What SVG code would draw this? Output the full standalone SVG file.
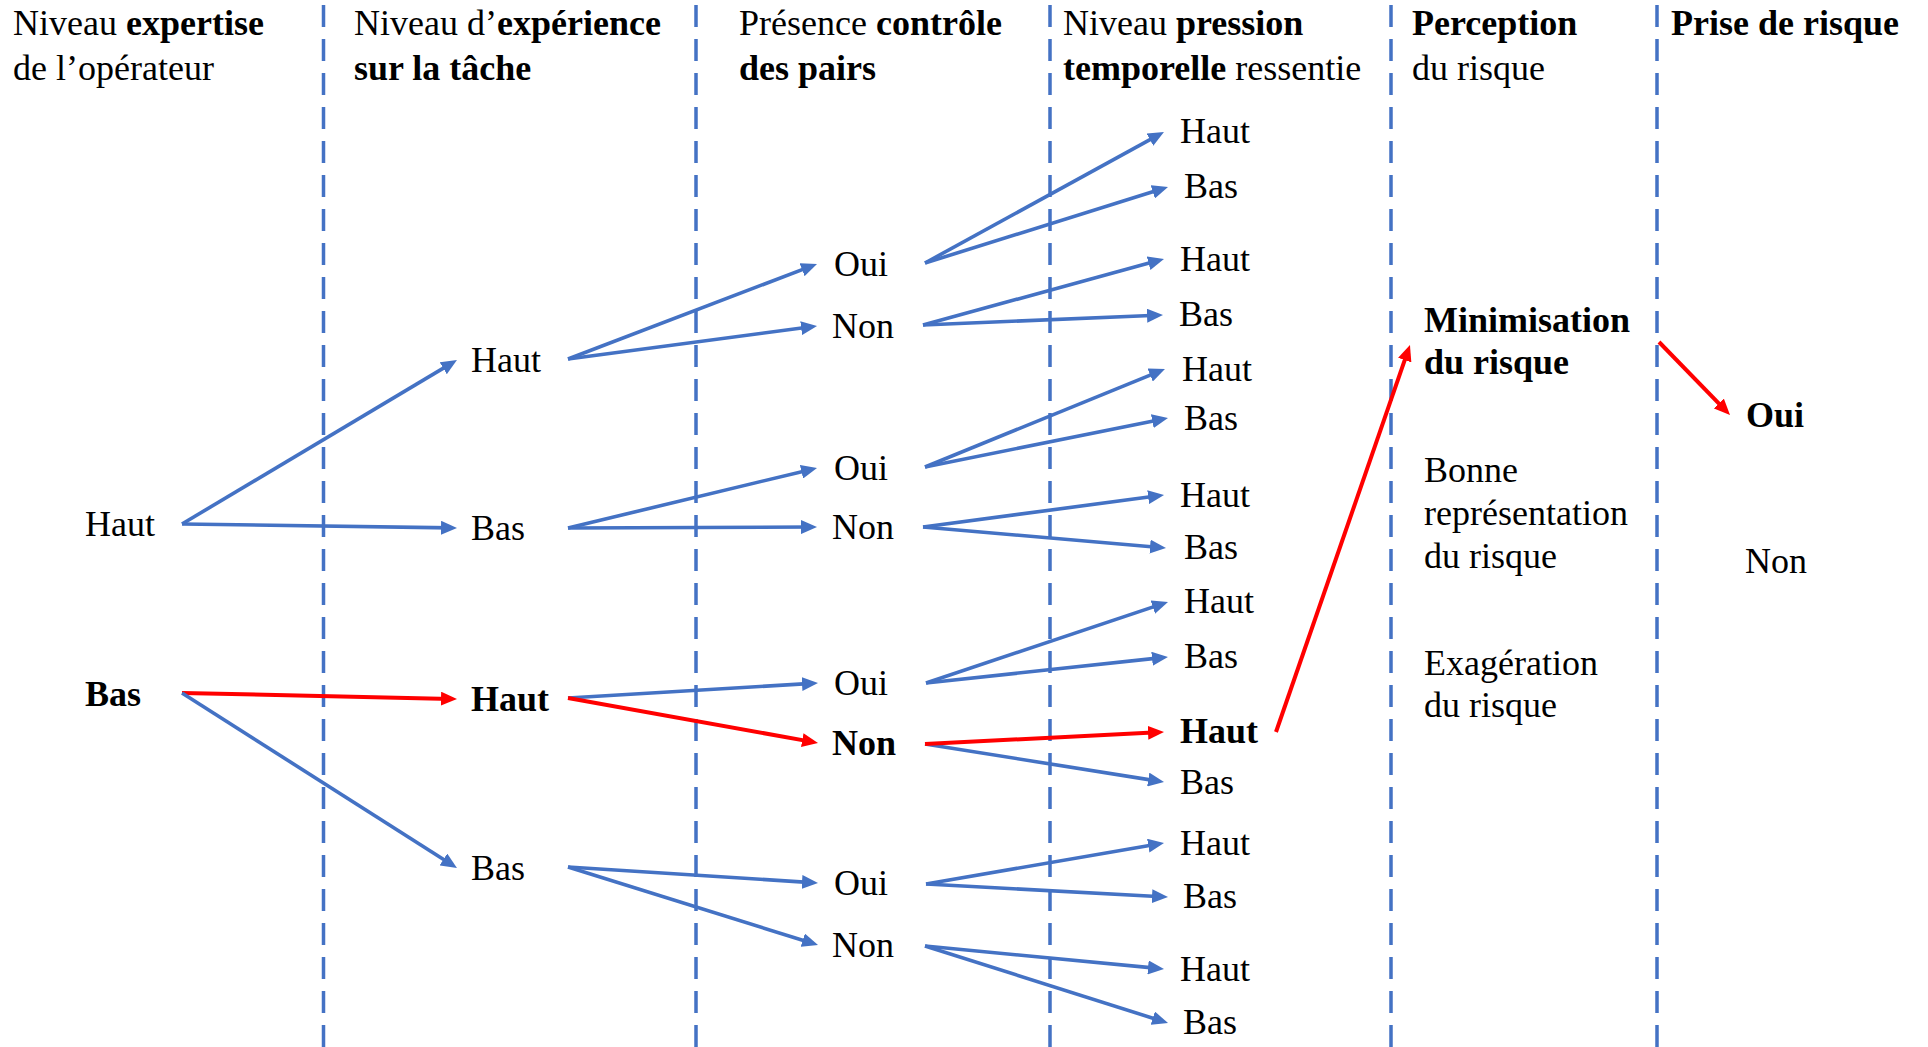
<svg xmlns="http://www.w3.org/2000/svg" width="1928" height="1047" viewBox="0 0 1928 1047">
<style>
text{font-family:"Liberation Serif","Times New Roman",serif;font-size:36px;fill:#000}
.b{font-weight:bold}
.dash{stroke:#4472C4;stroke-width:3.5;stroke-dasharray:22 12;fill:none}
.ab{stroke:#4472C4;stroke-width:3.6;fill:none;marker-end:url(#mb)}
.ar{stroke:#FF0000;stroke-width:4;fill:none;marker-end:url(#mr)}
</style>
<defs>
<marker id="mb" markerUnits="userSpaceOnUse" viewBox="0 0 16 14" markerWidth="16" markerHeight="14" refX="10" refY="7" orient="auto"><path d="M0,0 L16,7 L0,14 z" fill="#4472C4"/></marker>
<marker id="mr" markerUnits="userSpaceOnUse" viewBox="0 0 16 14" markerWidth="16" markerHeight="14" refX="10" refY="7" orient="auto"><path d="M0,0 L16,7 L0,14 z" fill="#FF0000"/></marker>
</defs>
<rect width="1928" height="1047" fill="#fff"/>
<g id="separators">
<line class="dash" x1="323.5" y1="5" x2="323.5" y2="1047"/>
<line class="dash" x1="696" y1="5" x2="696" y2="1047"/>
<line class="dash" x1="1050" y1="5" x2="1050" y2="1047"/>
<line class="dash" x1="1391" y1="5" x2="1391" y2="1047"/>
<line class="dash" x1="1657" y1="5" x2="1657" y2="1047"/>
</g>
<g id="headers">
<text x="13" y="35">Niveau <tspan class="b">expertise</tspan></text>
<text x="13" y="80">de l’opérateur</text>
<text x="354" y="35">Niveau d’<tspan class="b">expérience</tspan></text>
<text x="354" y="80" class="b">sur la tâche</text>
<text x="739" y="35">Présence <tspan class="b">contrôle</tspan></text>
<text x="739" y="80" class="b">des pairs</text>
<text x="1063" y="35">Niveau <tspan class="b">pression</tspan></text>
<text x="1063" y="80"><tspan class="b">temporelle</tspan> ressentie</text>
<text x="1412" y="35" class="b">Perception</text>
<text x="1412" y="80">du risque</text>
<text x="1671" y="35" class="b">Prise de risque</text>
</g>
<g id="connectors">
<line class="ab" x1="182" y1="524" x2="451.8" y2="363.1"/>
<line class="ab" x1="182" y1="524" x2="451" y2="527.9"/>
<line class="ar" x1="182" y1="693" x2="451" y2="698.9"/>
<line class="ab" x1="182" y1="693" x2="451.9" y2="864.8"/>
<line class="ab" x1="568" y1="359" x2="811.4" y2="266.1"/>
<line class="ab" x1="568" y1="359" x2="811.1" y2="326.8"/>
<line class="ab" x1="568" y1="528" x2="811.2" y2="469.4"/>
<line class="ab" x1="568" y1="528" x2="811" y2="527"/>
<line class="ab" x1="568" y1="698" x2="812" y2="683.4"/>
<line class="ar" x1="568" y1="698" x2="812.1" y2="741.9"/>
<line class="ab" x1="568" y1="867" x2="812" y2="882.6"/>
<line class="ab" x1="568" y1="867" x2="812.3" y2="943.2"/>
<line class="ab" x1="925" y1="263" x2="1158.7" y2="134.9"/>
<line class="ab" x1="925" y1="263" x2="1162.3" y2="188.8"/>
<line class="ab" x1="923" y1="325" x2="1158.2" y2="260.6"/>
<line class="ab" x1="923" y1="325" x2="1157" y2="315.25"/>
<line class="ab" x1="925" y1="467" x2="1159.4" y2="371.3"/>
<line class="ab" x1="925" y1="467" x2="1162.1" y2="419.2"/>
<line class="ab" x1="923" y1="527" x2="1158.1" y2="495.8"/>
<line class="ab" x1="923" y1="527" x2="1160" y2="547.5"/>
<line class="ab" x1="926" y1="683" x2="1162.3" y2="603.9"/>
<line class="ab" x1="926" y1="683" x2="1162" y2="657.6"/>
<line class="ab" x1="925" y1="744" x2="1158.1" y2="781.1"/>
<line class="ar" x1="925" y1="744" x2="1158" y2="732.3"/>
<line class="ab" x1="926" y1="884" x2="1158.1" y2="844"/>
<line class="ab" x1="926" y1="884" x2="1162" y2="896.7"/>
<line class="ab" x1="925" y1="946" x2="1158" y2="968.4"/>
<line class="ab" x1="925" y1="946" x2="1162.3" y2="1021.2"/>
<line class="ar" x1="1276" y1="732" x2="1408" y2="350.7"/>
<line class="ar" x1="1659" y1="342" x2="1725.8" y2="410.7"/>
</g>
<g id="n1-haut"><text x="85" y="536">Haut</text></g>
<g id="n1-bas"><text x="85" y="706" class="b">Bas</text></g>
<g id="n2-haut-a"><text x="471" y="372">Haut</text></g>
<g id="n2-bas-a"><text x="471" y="540">Bas</text></g>
<g id="n2-haut-b"><text x="471" y="711" class="b">Haut</text></g>
<g id="n2-bas-b"><text x="471" y="880">Bas</text></g>
<g id="n3-oui-1"><text x="834" y="276">Oui</text></g>
<g id="n3-non-1"><text x="832" y="338">Non</text></g>
<g id="n3-oui-2"><text x="834" y="480">Oui</text></g>
<g id="n3-non-2"><text x="832" y="539">Non</text></g>
<g id="n3-oui-3"><text x="834" y="695">Oui</text></g>
<g id="n3-non-3"><text x="832" y="755" class="b">Non</text></g>
<g id="n3-oui-4"><text x="834" y="895">Oui</text></g>
<g id="n3-non-4"><text x="832" y="957">Non</text></g>
<g id="n4-haut-1"><text x="1180" y="143">Haut</text></g>
<g id="n4-bas-1"><text x="1184" y="198">Bas</text></g>
<g id="n4-haut-2"><text x="1180" y="271">Haut</text></g>
<g id="n4-bas-2"><text x="1179" y="326">Bas</text></g>
<g id="n4-haut-3"><text x="1182" y="381">Haut</text></g>
<g id="n4-bas-3"><text x="1184" y="430">Bas</text></g>
<g id="n4-haut-4"><text x="1180" y="507">Haut</text></g>
<g id="n4-bas-4"><text x="1184" y="559">Bas</text></g>
<g id="n4-haut-5"><text x="1184" y="613">Haut</text></g>
<g id="n4-bas-5"><text x="1184" y="668">Bas</text></g>
<g id="n4-haut-6"><text x="1180" y="743" class="b">Haut</text></g>
<g id="n4-bas-6"><text x="1180" y="794">Bas</text></g>
<g id="n4-haut-7"><text x="1180" y="855">Haut</text></g>
<g id="n4-bas-7"><text x="1183" y="908">Bas</text></g>
<g id="n4-haut-8"><text x="1180" y="981">Haut</text></g>
<g id="n4-bas-8"><text x="1183" y="1034">Bas</text></g>
<g id="n5-minimisation"><text x="1424" y="332" class="b">Minimisation</text><text x="1424" y="374" class="b">du risque</text></g>
<g id="n5-bonne"><text x="1424" y="482">Bonne</text><text x="1424" y="525">représentation</text><text x="1424" y="568">du risque</text></g>
<g id="n5-exageration"><text x="1424" y="675">Exagération</text><text x="1424" y="717">du risque</text></g>
<g id="n6-oui"><text x="1746" y="427" class="b">Oui</text></g>
<g id="n6-non"><text x="1745" y="573">Non</text></g>
</svg>
